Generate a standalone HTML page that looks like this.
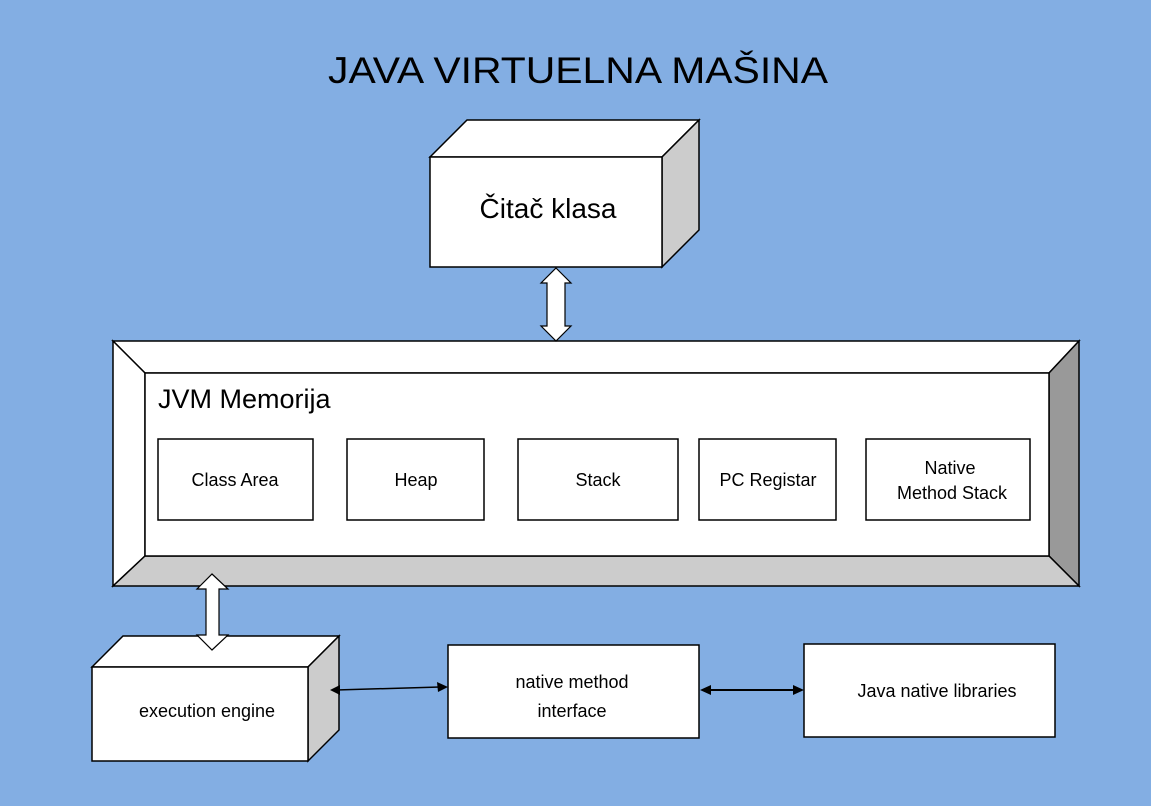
<!DOCTYPE html>
<html><head><meta charset="utf-8"><style>
body{margin:0;width:1151px;height:801px;background:#83aee3;overflow:hidden}
svg text{font-family:"Liberation Sans","DejaVu Sans",sans-serif;fill:#000}
</style></head><body>
<svg width="1151" height="801" viewBox="0 0 1151 801" xmlns="http://www.w3.org/2000/svg">
<rect width="1151" height="801" fill="#83aee3"/>
<text x="578" y="83" font-size="37" text-anchor="middle" textLength="500" lengthAdjust="spacingAndGlyphs">JAVA VIRTUELNA MAŠINA</text>

<g stroke="#000" stroke-width="1.5" stroke-linejoin="miter">
<!-- top cube -->
<polygon points="430,157 467,120 699,120 662,157" fill="#fff"/>
<polygon points="662,157 699,120 699,230 662,267" fill="#ccc"/>
<rect x="430" y="157" width="232" height="110" fill="#fff"/>

<!-- frame -->
<polygon points="113,341 1079,341 1049,373 145,373" fill="#fff"/>
<polygon points="113,341 145,373 145,556 113,586" fill="#fff"/>
<polygon points="1079,341 1079,586 1049,556 1049,373" fill="#999"/>
<polygon points="113,586 145,556 1049,556 1079,586" fill="#ccc"/>
<rect x="145" y="373" width="904" height="183" fill="#fff"/>

<rect x="158" y="439" width="155" height="81" fill="#fff"/>
<rect x="347" y="439" width="137" height="81" fill="#fff"/>
<rect x="518" y="439" width="160" height="81" fill="#fff"/>
<rect x="699" y="439" width="137" height="81" fill="#fff"/>
<rect x="866" y="439" width="164" height="81" fill="#fff"/>

<!-- exec cube -->
<polygon points="92,667 123,636 339,636 308,667" fill="#fff"/>
<polygon points="308,667 339,636 339,730 308,761" fill="#ccc"/>
<rect x="92" y="667" width="216" height="94" fill="#fff"/>

<rect x="448" y="645" width="251" height="93" fill="#fff"/>
<rect x="804" y="644" width="251" height="93" fill="#fff"/>

<!-- block arrows -->
<polygon points="556,268 571,283 565,283 565,326 571,326 556,341 541,326 547,326 547,283 541,283" fill="#fff" stroke-width="1.2"/>
<polygon points="212,574 228,589 219,589 219,635 228,635 212,650 197,635 206,635 206,589 197,589" fill="#fff" stroke-width="1.2"/>

<line x1="336" y1="690" x2="440" y2="687" stroke-width="1.5"/>
<line x1="708" y1="690" x2="796" y2="690" stroke-width="2"/>
</g>
<polygon points="330,690 340,685 340,695" fill="#000"/>
<polygon points="448,687 437,682 438,692" fill="#000"/>
<polygon points="700,690 711,685 711,695" fill="#000"/>
<polygon points="804,690 793,685 793,695" fill="#000"/>

<text x="548" y="218" font-size="28" text-anchor="middle">Čitač klasa</text>
<text x="158" y="408" font-size="27">JVM Memorija</text>
<text x="235" y="486" font-size="18" text-anchor="middle">Class Area</text>
<text x="416" y="486" font-size="18" text-anchor="middle">Heap</text>
<text x="598" y="486" font-size="18" text-anchor="middle">Stack</text>
<text x="768" y="486" font-size="18" text-anchor="middle">PC Registar</text>
<text x="950" y="474" font-size="18" text-anchor="middle">Native</text>
<text x="952" y="499" font-size="18" text-anchor="middle">Method Stack</text>
<text x="207" y="717" font-size="18" text-anchor="middle">execution engine</text>
<text x="572" y="688" font-size="18" text-anchor="middle">native method</text>
<text x="572" y="717" font-size="18" text-anchor="middle">interface</text>
<text x="937" y="697" font-size="18" text-anchor="middle">Java native libraries</text>
</svg>
</body></html>
